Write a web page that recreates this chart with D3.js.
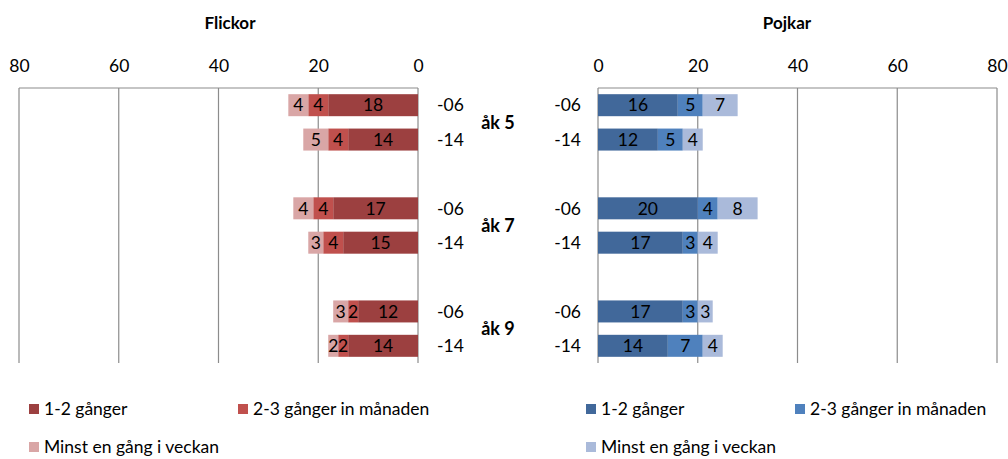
<!DOCTYPE html>
<html><head><meta charset="utf-8">
<script src="https://cdn.jsdelivr.net/npm/d3@7"></script>
<style>
body{margin:0;background:#fff;}
svg text{font-family:Lato,"Open Sans","Liberation Sans",sans-serif;fill:#000;}
</style></head>
<body><svg id="c" width="1008" height="459"></svg>
<script>
// ---- data ----
const grades = ["åk 5", "åk 7", "åk 9"];
const years = ["-06", "-14"];
const seriesNames = ["1-2 gånger", "2-3 gånger in månaden", "Minst en gång i veckan"];
// order of rows: åk5 -06, åk5 -14, åk7 -06, åk7 -14, åk9 -06, åk9 -14
const girls12 = [18, 14, 17, 15, 12, 14];
const girls23 = [4, 4, 4, 4, 2, 2];
const girlsWeek = [4, 5, 4, 3, 3, 2];
const boys12 = [16, 12, 20, 17, 17, 14];
const boys23 = [5, 5, 4, 3, 3, 7];
const boysWeek = [7, 4, 8, 4, 3, 4];
const tickValues = [0, 20, 40, 60, 80];
const panelTitles = ["Flickor", "Pojkar"];

const redColors = ["#9C4040", "#C0504D", "#D9A6A6"];
const blueColors = ["#41689A", "#4F81BD", "#AABADA"];

const FS = 17.5;
const svg = d3.select("#c");

// row keys including gap slots
const rowKeys = [];
grades.forEach((g, gi) => {
  years.forEach(y => rowKeys.push(g + "|" + y));
  if (gi < grades.length - 1) rowKeys.push("gap" + gi);
});
const dataRows = [];
grades.forEach(g => years.forEach(y => dataRows.push(g + "|" + y)));

const yScale = d3.scaleBand().domain(rowKeys).range([88, 363]).paddingInner(0.36).paddingOuter(0.18);

function panel(xScale, vals, colors, title, titleX) {
  const g = svg.append("g");
  g.selectAll("line.grid").data(tickValues).join("line")
    .attr("x1", d => xScale(d)).attr("x2", d => xScale(d))
    .attr("y1", 88).attr("y2", 363)
    .attr("stroke", "#8c8c8c").attr("stroke-width", 1.2);
  g.append("line").attr("x1", xScale(0)).attr("x2", xScale(80))
    .attr("y1", 88).attr("y2", 88).attr("stroke", "#8c8c8c").attr("stroke-width", 1.2);
  const axis = d3.axisTop(xScale).tickValues(tickValues).tickSize(0).tickPadding(0);
  const ag = g.append("g").attr("transform", "translate(0,72)").call(axis);
  ag.select(".domain").remove();
  ag.selectAll("text").attr("font-size", FS).attr("font-family", "Lato,'Open Sans',sans-serif").attr("fill", "#000").attr("dy", 0);
  g.append("text").attr("x", titleX).attr("y", 29).attr("text-anchor", "middle")
    .attr("font-size", 17).attr("font-weight", "bold").text(title);
  const stackData = dataRows.map((k, i) => ({ key: k, a: vals[0][i], b: vals[1][i], c: vals[2][i] }));
  const stacked = d3.stack().keys(["a", "b", "c"])(stackData);
  stacked.forEach((layer, li) => {
    layer.forEach(seg => {
      const x0 = xScale(seg[0]), x1 = xScale(seg[1]);
      const y = yScale(seg.data.key);
      g.append("rect").attr("x", Math.min(x0, x1)).attr("width", Math.abs(x1 - x0))
        .attr("y", y).attr("height", yScale.bandwidth()).attr("fill", colors[li]);
      g.append("text").attr("x", (x0 + x1) / 2).attr("y", y + yScale.bandwidth() / 2)
        .attr("dy", "0.36em").attr("text-anchor", "middle").attr("font-size", FS)
        .text(seg[1] - seg[0]);
    });
  });
}

const xLeft = d3.scaleLinear().domain([0, 80]).range([418, 19]);
const xRight = d3.scaleLinear().domain([0, 80]).range([598, 997]);

panel(xLeft, [girls12, girls23, girlsWeek], redColors, panelTitles[0], 230);
panel(xRight, [boys12, boys23, boysWeek], blueColors, panelTitles[1], 787);

dataRows.forEach(k => {
  const yr = k.split("|")[1];
  const yc = yScale(k) + yScale.bandwidth() / 2;
  svg.append("text").attr("x", 437).attr("y", yc).attr("dy", "0.36em").attr("font-size", FS).text(yr);
  svg.append("text").attr("x", 581).attr("y", yc).attr("dy", "0.36em").attr("text-anchor", "end").attr("font-size", FS).text(yr);
});
grades.forEach(gname => {
  const y1 = yScale(gname + "|" + years[0]), y2 = yScale(gname + "|" + years[1]) + yScale.bandwidth();
  svg.append("text").attr("x", 498).attr("y", (y1 + y2) / 2).attr("dy", "0.36em")
    .attr("text-anchor", "middle").attr("font-size", 18).attr("font-weight", "bold").text(gname);
});

function legend(x0, x1, colors) {
  const pos = [[x0, 409], [x1, 409], [x0, 447]];
  seriesNames.forEach((s, i) => {
    const [x, y] = pos[i];
    svg.append("rect").attr("x", x).attr("y", y - 5).attr("width", 10).attr("height", 10).attr("fill", colors[i]);
    svg.append("text").attr("x", x + 15).attr("y", y).attr("dy", "0.36em").attr("font-size", FS).text(s);
  });
}
legend(29, 238, redColors);
legend(586, 795, blueColors);
</script></body></html>
